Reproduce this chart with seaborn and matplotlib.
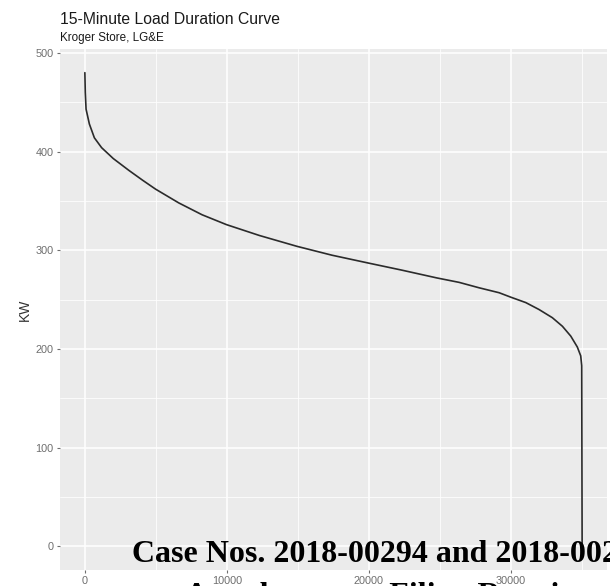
import matplotlib
matplotlib.use("Agg")
import matplotlib.pyplot as plt
import pandas as pd
import seaborn as sns
from matplotlib.ticker import MultipleLocator


# load duration curve (interval rank vs kW)
duration = [0, 30, 85, 317, 670, 1180, 2000, 3100, 4070, 4980, 6620, 8260,
            9980, 12300, 14950, 17420, 20000, 22300, 24800, 26370, 27780,
            29190, 30010, 31070, 32000, 32940, 33650, 34240, 34700, 34940,
            35010, 35040]
kw = [480, 460, 443, 428, 414, 404, 393, 381, 371, 362, 348, 336,
      326, 315, 304, 295, 287, 280, 272, 267.5, 262,
      257, 252.5, 247, 240, 231.7, 223, 213, 202, 193,
      183, 0]

TITLE = "15-Minute Load Duration Curve"
SUBTITLE = "Kroger Store, LG&E"
Y_LABEL = "KW"
STAMP_LINE1 = "Case Nos. 2018-00294 and 2018-00295"
STAMP_LINE2 = "Attachment to Filing Requirement"

W, H = 610, 586

sns.set_theme(style="darkgrid", rc={
    "axes.facecolor": "#EBEBEB",
    "grid.color": "white",
    "axes.edgecolor": "#EBEBEB",
})
plt.rcParams["font.family"] = ["Liberation Sans", "DejaVu Sans"]

df = pd.DataFrame({"duration": duration, "kw": kw})

fig = plt.figure(figsize=(W / 100, H / 100), dpi=100)
ax = fig.add_axes([60 / W, (H - 570) / H, 547 / W, (570 - 49) / H])

sns.lineplot(data=df, x="duration", y="kw", ax=ax, color="#2b2b2b",
             linewidth=1.2, sort=False, estimator=None)

# ggplot-style 5% expansion
xr = max(duration) - min(duration)
yr = max(kw) - min(kw)
ax.set_xlim(min(duration) - 0.05 * xr, max(duration) + 0.05 * xr)
ax.set_ylim(min(kw) - 0.05 * yr, max(kw) + 0.05 * yr)

ax.xaxis.set_major_locator(MultipleLocator(10000))
ax.xaxis.set_minor_locator(MultipleLocator(5000))
ax.yaxis.set_major_locator(MultipleLocator(100))
ax.yaxis.set_minor_locator(MultipleLocator(50))
ax.grid(which="major", color="white", linewidth=1.1)
ax.grid(which="minor", color="white", linewidth=0.55)
for s in ax.spines.values():
    s.set_visible(False)

ax.tick_params(axis="both", which="major", labelsize=7.8, labelcolor="#6e6e6e",
               color="#6e6e6e", length=2.5, width=0.8, pad=2, bottom=True, left=True)
ax.tick_params(axis="both", which="minor", length=0)

ax.set_xlabel("")
ax.set_ylabel(Y_LABEL, fontsize=10, color="#333333", labelpad=3)

fig.text(60 / W, 1 - 24 / H, TITLE, fontsize=11.3, color="#1a1a1a", ha="left", va="baseline")
fig.text(60 / W, 1 - 41 / H, SUBTITLE, fontsize=8.4, color="#1a1a1a", ha="left", va="baseline")

# filing stamp printed over the chart
serif = ["Liberation Serif", "DejaVu Serif"]
fig.text(132 / W, 1 - 562 / H, STAMP_LINE1, fontsize=23, fontweight="bold",
         family=serif, color="black", ha="left", va="baseline", zorder=10)
fig.text(185 / W, 1 - 604 / H, STAMP_LINE2, fontsize=23, fontweight="bold",
         family=serif, color="black", ha="left", va="baseline", zorder=10)

fig.savefig("out.png", dpi=100, facecolor="white")
